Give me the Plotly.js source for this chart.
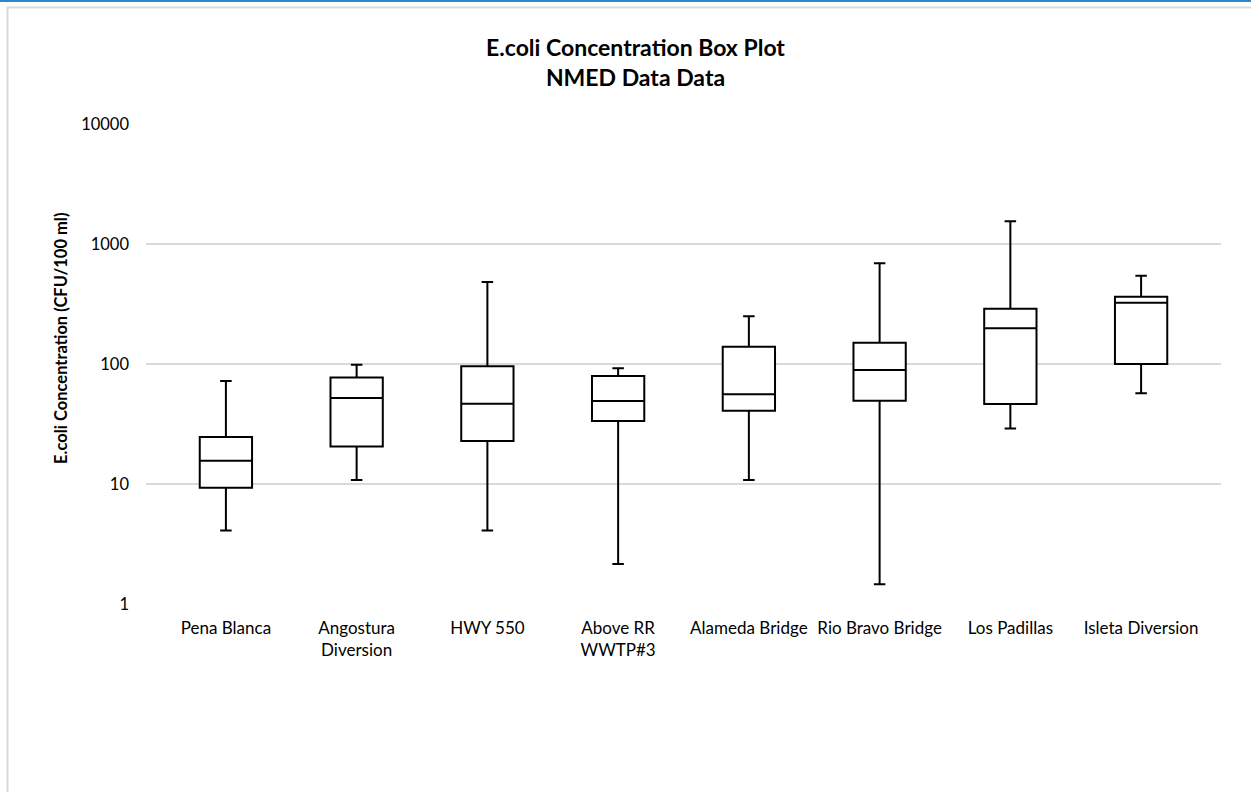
<!DOCTYPE html>
<html>
<head>
<meta charset="utf-8">
<script src="https://cdn.plot.ly/plotly-3.0.1.min.js"></script>
<style>html,body{margin:0;padding:0;background:#fff;}#chart{width:1251px;height:792px;}</style>
</head>
<body>
<div id="chart"></div>
<script>
const categories = ["Pena Blanca", "Angostura<br>Diversion", "HWY 550", "Above RR<br>WWTP#3", "Alameda Bridge", "Rio Bravo Bridge", "Los Padillas", "Isleta Diversion"];
const lowerWhisker = [4.1, 10.8, 4.1, 2.15, 10.8, 1.46, 29, 57];
const q1Values     = [9.3, 20.5, 22.8, 33.5, 40.8, 49.4, 46.4, 100];
const medianValues = [15.6, 52, 46.7, 49.2, 55.9, 89, 199, 324];
const q3Values     = [24.6, 77, 96, 79.4, 139, 150, 289, 364];
const upperWhisker = [72, 98.7, 482, 92, 250, 690, 1545, 545];
const yTickVals = [1, 10, 100, 1000, 10000];
const yTickText = ["1", "10", "100", "1000", "10000"];
const yAxisTitle = "<b>E.coli Concentration (CFU/100 ml)</b>";

const font = "Lato, 'Liberation Sans', sans-serif";
const trace = {
  type: "box",
  x: categories,
  q1: q1Values,
  median: medianValues,
  q3: q3Values,
  lowerfence: lowerWhisker,
  upperfence: upperWhisker,
  boxpoints: false,
  width: 0.4,
  whiskerwidth: 0.22,
  fillcolor: "#ffffff",
  line: {color: "#000000", width: 2},
  hoverinfo: "y",
  showlegend: false
};

const W = 1075, L = 146;
function px(p){ return (p - L) / W; }
const layout = {
  width: 1251, height: 792,
  margin: {l: L, r: 30, t: 124, b: 188},
  paper_bgcolor: "#ffffff", plot_bgcolor: "#ffffff",
  font: {family: font, size: 17, color: "#000000"},
  title: {
    text: "<b>E.coli Concentration Box Plot<br>NMED Data Data</b>",
    font: {family: font, size: 23, color: "#000000"},
    x: 0.508, xref: "container", xanchor: "center",
    y: 0.929, yref: "container", yanchor: "top"
  },
  xaxis: {
    type: "category",
    showgrid: false, zeroline: false, showline: false,
    ticks: "", ticklabelstandoff: 12,
    tickfont: {family: font, size: 17, color: "#000000"}
  },
  yaxis: {
    type: "log", range: [0, 4],
    tickvals: yTickVals, ticktext: yTickText,
    showgrid: true, gridcolor: "#d9d9d9", gridwidth: 1.3,
    zeroline: false, showline: false, ticks: "",
    ticklabelstandoff: 16,
    tickfont: {family: font, size: 16.5, color: "#000000"}
  },
  annotations: [
    {text: yAxisTitle, xref: "paper", yref: "paper", x: px(61), y: (604 - 339) / 480,
     xanchor: "center", yanchor: "middle", textangle: -90, showarrow: false,
     font: {family: font, size: 16.5, color: "#000000"}}
  ],
  shapes: [
    {type: "rect", xref: "paper", yref: "paper", x0: px(7.5), x1: px(1262), y0: (604 - 7.5) / 480, y1: (604 - 800) / 480,
     line: {color: "#d9d9d9", width: 2}, fillcolor: "rgba(0,0,0,0)", layer: "below"},
    {type: "rect", xref: "paper", yref: "paper", x0: px(-5), x1: px(1260), y0: (604 - 0) / 480, y1: (604 - 2) / 480,
     line: {width: 0}, fillcolor: "#2e86c8", layer: "above"}
  ]
};
Plotly.newPlot("chart", [trace], layout, {displayModeBar: false, staticPlot: true});
</script>
</body>
</html>
